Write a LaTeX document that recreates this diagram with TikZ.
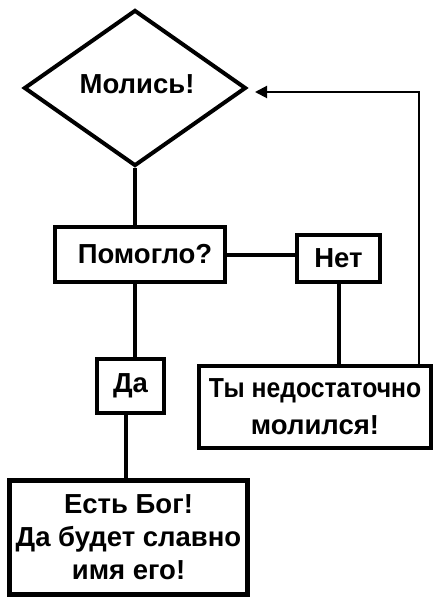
\documentclass[tikz,border=0pt]{standalone}
\usepackage{fontspec}
\setmainfont{Liberation Sans}
\usetikzlibrary{shapes.geometric,arrows.meta}
\begin{document}
\begin{tikzpicture}[x=1pt,y=-1pt,
  txt/.style={font=\bfseries\fontsize{27.5}{33}\selectfont,align=center,inner sep=0pt},
  boxn/.style={txt,draw,line width=4pt,rectangle},
  conn/.style={line width=4pt},
  loopline/.style={line width=2pt,-{Triangle[length=12pt,width=12pt]}}]
\fill[white] (0,0) rectangle (441,601);
\useasboundingbox (0,0) rectangle (441,601);
\node[draw,line width=4pt,diamond,inner sep=0pt,minimum width=222pt,minimum height=156pt] (dia) at (135,88) {};
\node[txt] (diat) at (137,84) {Молись!};
\node[boxn,minimum width=170pt,minimum height=55pt] (pom) at (140,254.5) {\hspace*{10pt}Помогло?};
\node[boxn,minimum width=83pt,minimum height=47pt] (net) at (338.5,258.5) {Нет};
\node[boxn,minimum width=67pt,minimum height=54pt] (da) at (130.5,386) {Да};
\node[boxn,minimum width=232pt,minimum height=82pt,font=\bfseries\fontsize{27.5}{37}\selectfont] (ty) at (315,407) {\scalebox{0.9}[1]{Ты недостаточно}\\молился!};
\node[boxn,line width=5pt,minimum width=238pt,minimum height=114pt] (est) at (128.5,537.5) {Есть Бог!\\Да будет славно\\имя его!};
\draw[conn] (dia.south) -- (dia.south |- pom.north);
\draw[conn] (pom.south -| dia.south) -- (da.north -| dia.south);
\draw[conn] ([xshift=-4.5pt]da.south) -- ([xshift=-4.5pt]da.south |- est.north);
\draw[conn] (pom.east |- 0,255) -- (net.west |- 0,255);
\draw[conn] (net.south) -- (net.south |- ty.north);
\coordinate (fbtop) at (419,92);
\draw[loopline] (ty.north -| fbtop) -- (fbtop) -- ([shift={(7,4)}]dia.east);
\end{tikzpicture}
\end{document}
